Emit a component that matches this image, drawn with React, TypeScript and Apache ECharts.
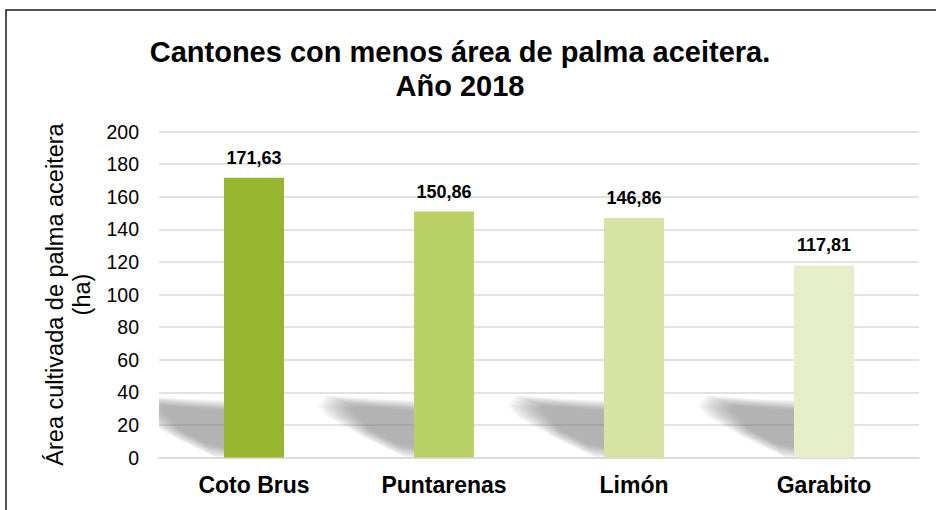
import React, { useEffect, useRef } from "react";
import * as echarts from "echarts";

const categories = ["Coto Brus", "Puntarenas", "Limón", "Garabito"];
const values = [171.63, 150.86, 146.86, 117.81];
const barColors = ["#98b52f", "#bad168", "#d7e3a3", "#e7efca"];
const yTicks = { min: 0, max: 200, interval: 20 };
const titleLines = ["Cantones con menos área de palma aceitera.", "Año 2018"];
const yAxisTitle = ["Área cultivada de palma aceitera", "(ha)"];

const FONT = "'Liberation Sans', Arial, sans-serif";
const BAR_FRAC = 60 / 190;

// soft shadow outline (outer) and core (inner), relative to bar bottom-left
const SHADOW_OUTER = [[-88, -62], [-45, -59], [0, -57], [0, 0], [-8, 0], [-50, -20], [-88, -42], [-96, -52]];
const SHADOW_INNER = [[-60, -52], [-35, -50], [0, -47], [0, -10], [-18, -14], [-45, -28], [-60, -44], [-64, -48]];

export default function App() {
  const ref = useRef<HTMLDivElement>(null);
  useEffect(() => {
    if (!ref.current) return;
    const chart = echarts.init(ref.current, null, { renderer: "svg" });
    const option: any = {
      animation: false,
      backgroundColor: "#ffffff",
      title: {
        text: titleLines.join("\n"),
        left: 460,
        textAlign: "center",
        top: 35,
        padding: 0,
        textStyle: {
          fontFamily: FONT,
          fontSize: 29,
          fontWeight: "bold",
          color: "#000",
          lineHeight: 34,
        },
      },
      grid: { left: 159, right: 17, top: 131.5, bottom: 52.5, containLabel: false },
      xAxis: {
        type: "category",
        data: categories,
        axisLine: { show: true, lineStyle: { color: "#d9d9d9", width: 1.5 } },
        axisTick: { show: false },
        axisLabel: {
          margin: 16,
          fontFamily: FONT,
          fontSize: 23,
          fontWeight: "bold",
          color: "#000",
        },
      },
      yAxis: {
        type: "value",
        min: yTicks.min,
        max: yTicks.max,
        interval: yTicks.interval,
        name: yAxisTitle.join("\n"),
        nameLocation: "middle",
        nameRotate: 90,
        nameGap: 56,
        nameTextStyle: {
          fontFamily: FONT,
          fontSize: 23.5,
          color: "#000",
          lineHeight: 27,
        },
        axisLine: { show: false },
        axisTick: { show: false },
        axisLabel: { margin: 20, fontFamily: FONT, fontSize: 19.5, color: "#000" },
        splitLine: { lineStyle: { color: "#d9d9d9", width: 1.5 } },
      },
      series: [
        {
          type: "custom",
          z: 1,
          silent: true,
          data: values.map((v, i) => [i, v]),
          renderItem: (params: any, api: any) => {
            const base = api.coord([api.value(0), 0]);
            const band = api.size([1, 0])[0];
            const bw = band * BAR_FRAC;
            const bx = base[0] - bw / 2;
            const by = base[1];
            const cs = params.coordSys;
            const N = 10;
            const layers = [];
            for (let k = 0; k < N; k++) {
              const t = k / (N - 1);
              const pts = SHADOW_OUTER.map((o, j) => {
                const inn = SHADOW_INNER[j];
                return [
                  bx + o[0] + (inn[0] - o[0]) * t,
                  by + o[1] + (inn[1] - o[1]) * t,
                ];
              });
              layers.push({
                type: "polygon",
                shape: { points: pts },
                style: { fill: "rgba(110,110,110,0.07)" },
              });
            }
            return {
              type: "group",
              clipPath: {
                type: "rect",
                shape: { x: cs.x, y: cs.y, width: cs.width, height: cs.height },
              },
              children: layers,
            };
          },
        },
        {
          type: "bar",
          z: 2,
          barWidth: (BAR_FRAC * 100).toFixed(2) + "%",
          data: values.map((v, i) => ({ value: v, itemStyle: { color: barColors[i] } })),
          label: {
            show: true,
            position: "top",
            distance: 11,
            fontFamily: FONT,
            fontSize: 18,
            fontWeight: "bold",
            color: "#000",
            formatter: (p: any) => Number(p.value).toFixed(2).replace(".", ","),
          },
        },
      ],
      graphic: [
        {
          type: "rect",
          silent: true,
          z: 100,
          shape: { x: 6, y: 10, width: 940, height: 520 },
          style: { fill: "none", stroke: "#1a1a1a", lineWidth: 1.5 },
        },
      ],
    };
    chart.setOption(option);
    return () => chart.dispose();
  }, []);
  return (
    <div
      ref={ref}
      style={{ position: "fixed", left: 0, top: 0, width: 936, height: 510 }}
    />
  );
}
